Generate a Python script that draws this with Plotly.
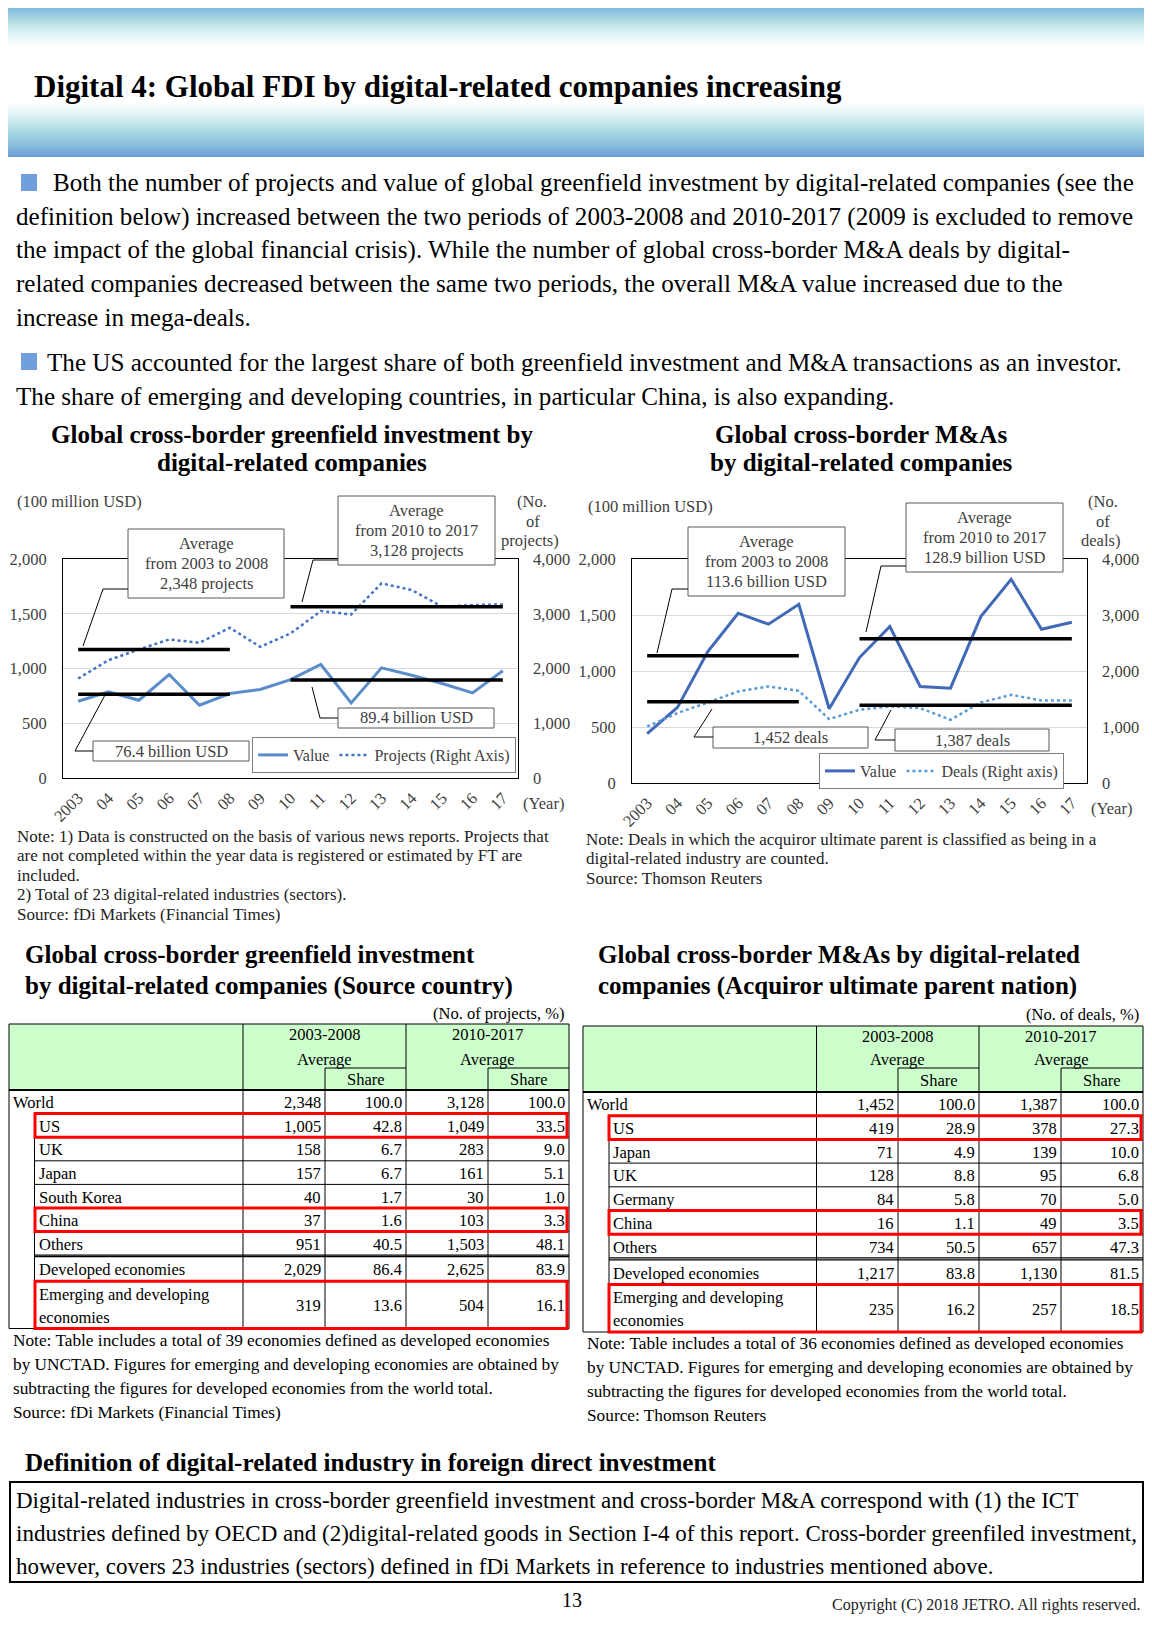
import plotly.graph_objects as go

W, H = 1152, 1625
OFF = 8                            # default page margin of the HTML body
FW, FH = W - 2 * OFF, H - 2 * OFF  # page (figure + margins) fits the window exactly
SERIF = "Liberation Serif, Times New Roman, serif"

# ---------------- data ----------------
years = ["2003", "04", "05", "06", "07", "08", "09", "10", "11", "12", "13", "14", "15", "16", "17"]

# Greenfield investment (value: 100 million USD; projects: number)
gf_value = [701, 787, 710, 945, 665, 771, 808, 899, 1037, 686, 1006, 939, 863, 777, 979]
gf_projects = [1817, 2152, 2348, 2530, 2470, 2744, 2396, 2640, 3049, 2988, 3555, 3433, 3128, 3159, 3171]
gf_avg_value = [764, 894]          # 76.4 / 89.4 billion USD
gf_avg_projects = [2348, 3128]

# Cross-border M&A (value: 100 million USD; deals: number)
ma_value = [440, 675, 1174, 1516, 1418, 1596, 663, 1120, 1397, 862, 847, 1486, 1819, 1373, 1435]
ma_deals = [1010, 1248, 1438, 1635, 1724, 1646, 1141, 1308, 1367, 1337, 1129, 1438, 1575, 1474, 1474]
ma_avg_value = [1136, 1289]        # 113.6 / 128.9 billion USD
ma_avg_deals = [1452, 1387]

periods = [(0, 5), (7, 14)]        # 2003-2008, 2010-2017
period_labels = ["from 2003 to 2008", "from 2010 to 2017"]

# Tables
gf_rows = ["World", "US", "UK", "Japan", "South Korea", "China", "Others",
           "Developed economies", "Emerging and developing\neconomies"]
gf_avg_0308 = [2348, 1005, 158, 157, 40, 37, 951, 2029, 319]
gf_share_0308 = [100.0, 42.8, 6.7, 6.7, 1.7, 1.6, 40.5, 86.4, 13.6]
gf_avg_1017 = [3128, 1049, 283, 161, 30, 103, 1503, 2625, 504]
gf_share_1017 = [100.0, 33.5, 9.0, 5.1, 1.0, 3.3, 48.1, 83.9, 16.1]

ma_rows = ["World", "US", "Japan", "UK", "Germany", "China", "Others",
           "Developed economies", "Emerging and developing\neconomies"]
ma_avg_0308 = [1452, 419, 71, 128, 84, 16, 734, 1217, 235]
ma_share_0308 = [100.0, 28.9, 4.9, 8.8, 5.8, 1.1, 50.5, 83.8, 16.2]
ma_avg_1017 = [1387, 378, 139, 95, 70, 49, 657, 1130, 257]
ma_share_1017 = [100.0, 27.3, 10.0, 6.8, 5.0, 3.5, 47.3, 81.5, 18.5]

highlight_rows = ["US", "China", "Emerging and developing\neconomies"]
table_periods = ["2003-2008", "2010-2017"]


# ---------------- helpers ----------------
def px(x):
    return (x - OFF) / FW


def py(y):
    return 1 - (y - OFF) / FH


shapes = []
annotations = []


def text(x, y, s, size=15, color="#000", bold=False, xanchor="left", yanchor="middle"):
    if bold:
        s = f"<b>{s}</b>"
    annotations.append(dict(x=px(x), y=py(y), xref="paper", yref="paper", text=s,
                            showarrow=False, xanchor=xanchor, yanchor=yanchor,
                            font=dict(family=SERIF, size=size, color=color)))


def rect(x0, y0, x1, y1, fill=None, line_color=None, width=1, layer="above"):
    shapes.append(dict(type="rect", xref="paper", yref="paper",
                       x0=px(x0), x1=px(x1), y0=py(y1), y1=py(y0),
                       fillcolor=fill or "rgba(0,0,0,0)",
                       line=dict(color=line_color or "rgba(0,0,0,0)",
                                 width=width if line_color else 0),
                       layer=layer))


def line(x0, y0, x1, y1, color="#000", width=1):
    shapes.append(dict(type="line", xref="paper", yref="paper",
                       x0=px(x0), y0=py(y0), x1=px(x1), y1=py(y1),
                       line=dict(color=color, width=width), layer="above"))


def path(points, color="#000", width=1):
    d = "M " + " L ".join(f"{px(x)},{py(y)}" for x, y in points)
    shapes.append(dict(type="path", xref="paper", yref="paper", path=d,
                       line=dict(color=color, width=width), layer="above"))


def hex2rgb(h):
    h = h.lstrip("#")
    return tuple(int(h[i:i + 2], 16) for i in (0, 2, 4))


# ---------------- header gradient ----------------
stops = [(0, "#6a9ad8"), (8, "#80b8dc"), (18, "#a6d6df"), (30, "#d4eef2"), (46, "#ffffff"),
         (104, "#ffffff"), (118, "#d6eef2"), (132, "#a8d7e0"), (146, "#86bedd"), (157, "#6a9ad8")]


def grad_color(y):
    for (y0, c0), (y1, c1) in zip(stops[:-1], stops[1:]):
        if y0 <= y <= y1:
            t = (y - y0) / (y1 - y0) if y1 > y0 else 0
            a, b = hex2rgb(c0), hex2rgb(c1)
            return "rgb(%d,%d,%d)" % tuple(round(a[i] + (b[i] - a[i]) * t) for i in range(3))
    return stops[-1][1]


yy = 0.0
while yy < 157:
    rect(0, yy, W, min(yy + 2.6, 157), fill=grad_color(yy + 1), layer="below")
    yy += 2

text(32, 87, "Digital 4: Global FDI by digital-related companies increasing", size=31, bold=True)

# ---------------- body text ----------------
BODY = 25.1
rect(21, 174, 37, 191, fill="#6f9fdc")
body1 = ["Both the number of projects and value of global greenfield investment by digital-related companies (see the",
         "definition below) increased between the two periods of 2003-2008 and 2010-2017 (2009 is excluded to remove",
         "the impact of the global financial crisis). While the number of global cross-border M&A deals by digital-",
         "related companies decreased between the same two periods, the overall M&A value increased due to the",
         "increase in mega-deals."]
for i, s in enumerate(body1):
    text(51 if i == 0 else 14, 183 + i * 33.5, s, size=BODY)
rect(21, 353, 37, 370, fill="#6f9fdc")
body2 = ["The US accounted for the largest share of both greenfield investment and M&A transactions as an investor.",
         "The share of emerging and developing countries, in particular China, is also expanding."]
for i, s in enumerate(body2):
    text(45 if i == 0 else 14, 363 + i * 34, s, size=BODY)

# ---------------- chart titles ----------------
TT = 25
text(292, 434, "Global cross-border greenfield investment by", size=TT, bold=True, xanchor="center")
text(292, 463, "digital-related companies", size=TT, bold=True, xanchor="center")
text(861, 434, "Global cross-border M&As", size=TT, bold=True, xanchor="center")
text(861, 463, "by digital-related companies", size=TT, bold=True, xanchor="center")

# ---------------- charts ----------------
C_GF_VAL = "#5b8dca"
C_GF_PROJ = "#4472c4"
C_MA_VAL = "#4169b7"
C_MA_DEAL = "#5b9bd5"
TXT = "#404040"
CF = 16.5   # chart font size

fig = go.Figure()
fig.add_trace(go.Scatter(x=years, y=gf_value, xaxis="x", yaxis="y", mode="lines",
                         line=dict(color=C_GF_VAL, width=3), name="Value", legend="legend"))
fig.add_trace(go.Scatter(x=years, y=gf_projects, xaxis="x", yaxis="y2", mode="lines",
                         line=dict(color=C_GF_PROJ, width=2.5, dash="dot"),
                         name="Projects (Right Axis)", legend="legend"))
for (i0, i1), v in zip(periods, gf_avg_value):
    fig.add_trace(go.Scatter(x=years[i0:i1 + 1], y=[v] * (i1 - i0 + 1), xaxis="x", yaxis="y",
                             mode="lines", line=dict(color="black", width=3.5), showlegend=False))
for (i0, i1), v in zip(periods, gf_avg_projects):
    fig.add_trace(go.Scatter(x=years[i0:i1 + 1], y=[v] * (i1 - i0 + 1), xaxis="x", yaxis="y2",
                             mode="lines", line=dict(color="black", width=3.5), showlegend=False))

fig.add_trace(go.Scatter(x=years, y=ma_value, xaxis="x2", yaxis="y3", mode="lines",
                         line=dict(color=C_MA_VAL, width=3), name="Value", legend="legend2"))
fig.add_trace(go.Scatter(x=years, y=ma_deals, xaxis="x2", yaxis="y4", mode="lines",
                         line=dict(color=C_MA_DEAL, width=2.5, dash="dot"),
                         name="Deals (Right axis)", legend="legend2"))
for (i0, i1), v in zip(periods, ma_avg_value):
    fig.add_trace(go.Scatter(x=years[i0:i1 + 1], y=[v] * (i1 - i0 + 1), xaxis="x2", yaxis="y3",
                             mode="lines", line=dict(color="black", width=3.5), showlegend=False))
for (i0, i1), v in zip(periods, ma_avg_deals):
    fig.add_trace(go.Scatter(x=years[i0:i1 + 1], y=[v] * (i1 - i0 + 1), xaxis="x2", yaxis="y4",
                             mode="lines", line=dict(color="black", width=3.5), showlegend=False))

tickfont = dict(family=SERIF, size=CF, color=TXT)
xcommon = dict(type="category", categoryorder="array", categoryarray=years, range=[-0.5, 14.5],
               tickangle=-45, showgrid=False, showline=True, mirror=True, linecolor="black",
               linewidth=1, ticks="", tickfont=tickfont, zeroline=False, fixedrange=True,
               ticklabelstandoff=3, automargin=False)
yleft = dict(range=[0, 2000], dtick=500, tickformat=",", showgrid=True, gridcolor="#d9d9d9",
             showline=True, mirror=True, linecolor="black", linewidth=1, ticks="",
             tickfont=tickfont, zeroline=False, fixedrange=True, ticklabelstandoff=12,
             automargin=False)
yright = dict(range=[0, 4000], dtick=1000, tickformat=",", showgrid=False, showline=False,
              side="right", ticks="", tickfont=tickfont, zeroline=False, fixedrange=True,
              ticklabelstandoff=14, automargin=False)

fig.update_layout(
    xaxis=dict(domain=[px(63), px(518)], anchor="y", **xcommon),
    yaxis=dict(domain=[py(778), py(559)], anchor="x", **yleft),
    yaxis2=dict(overlaying="y", anchor="x", **yright),
    xaxis2=dict(domain=[px(632), px(1087)], anchor="y3", **xcommon),
    yaxis3=dict(domain=[py(783), py(559)], anchor="x2", **yleft),
    yaxis4=dict(overlaying="y3", anchor="x2", **yright),
)

legend_common = dict(xanchor="left", yanchor="top", orientation="h", bordercolor="#7f7f7f",
                     borderwidth=1, bgcolor="white", itemwidth=30,
                     font=dict(family=SERIF, size=16, color=TXT))
fig.update_layout(legend=dict(x=px(252), y=py(737), **legend_common),
                  legend2=dict(x=px(819), y=py(753), **legend_common))

# axis unit labels
text(15, 501, "(100 million USD)", size=CF, color=TXT)
text(532, 501, "(No.", size=CF, color=TXT, xanchor="center")
text(533, 521, "of", size=CF, color=TXT, xanchor="center")
text(530, 541, "projects)", size=CF, color=TXT, xanchor="center")
text(521, 803, "(Year)", size=CF, color=TXT)

text(586, 507, "(100 million USD)", size=CF, color=TXT)
text(1103, 502, "(No.", size=CF, color=TXT, xanchor="center")
text(1103, 521, "of", size=CF, color=TXT, xanchor="center")
text(1100, 540, "deals)", size=CF, color=TXT, xanchor="center")
text(1089, 808, "(Year)", size=CF, color=TXT)


def callout(x0, y0, x1, y1, lines, leader, line_h=20):
    rect(x0, y0, x1, y1, fill="white", line_color="#595959", width=1)
    cy = (y0 + y1) / 2
    n = len(lines)
    for k, s in enumerate(lines):
        text((x0 + x1) / 2, cy + (k - (n - 1) / 2) * line_h, s, size=CF, color=TXT, xanchor="center")
    path(leader, color="#000", width=1)


def bn(v):
    return f"{v / 10:.1f} billion USD"


callout(128, 529, 284, 598, ["Average", period_labels[0], f"{gf_avg_projects[0]:,} projects"],
        [(128, 589), (103, 589), (83, 646)])
callout(338, 496, 495, 565, ["Average", period_labels[1], f"{gf_avg_projects[1]:,} projects"],
        [(338, 560), (313, 560), (302, 602)])
callout(93, 741, 249, 761, [bn(gf_avg_value[0])], [(93, 751), (75, 751), (105, 695)])
callout(338, 708, 494, 728, [bn(gf_avg_value[1])], [(338, 718), (320, 718), (312, 687)])

callout(688, 527, 845, 596, ["Average", period_labels[0], bn(ma_avg_value[0])],
        [(688, 589), (672, 589), (657, 653)])
callout(906, 503, 1063, 572, ["Average", period_labels[1], bn(ma_avg_value[1])],
        [(906, 566), (881, 566), (866, 632)])
callout(713, 727, 868, 748, [f"{ma_avg_deals[0]:,} deals"], [(713, 737), (694, 737), (712, 709)])
callout(895, 729, 1049, 751, [f"{ma_avg_deals[1]:,} deals"], [(895, 740), (875, 740), (891, 710)])

# chart notes
NOTE = 17
gf_notes = ["Note: 1) Data is constructed on the basis of various news reports. Projects that",
            "are not completed within the year data is registered or estimated by FT are",
            "included.",
            "2) Total of 23 digital-related industries (sectors).",
            "Source: fDi Markets (Financial Times)"]
for i, s in enumerate(gf_notes):
    text(15, 836 + i * 19.5, s, size=NOTE, color="#222")
ma_notes = ["Note: Deals in which the acquiror ultimate parent is classified as being in a",
            "digital-related industry are counted.",
            "Source: Thomson Reuters"]
for i, s in enumerate(ma_notes):
    text(584, 839 + i * 19.5, s, size=NOTE, color="#222")

# ---------------- table titles ----------------
text(23, 954, "Global cross-border greenfield investment", size=TT, bold=True)
text(23, 986, "by digital-related companies (Source country)", size=TT, bold=True)
text(596, 954, "Global cross-border M&As by digital-related", size=TT, bold=True)
text(596, 986, "companies (Acquiror ultimate parent nation)", size=TT, bold=True)


# ---------------- tables ----------------
def draw_table(x_outer, x_inner, cols, y_top, y_share, y_hdr, row_h, gap, rows,
               avg_a, share_a, avg_b, share_b, red_x0, red_x1, unit_text):
    c1, c2, c3, c4, xr = cols
    TF = 16.5
    text(xr - 2, y_top - 11, unit_text, size=TF, xanchor="right")
    bounds = [y_hdr]
    for _ in range(7):
        bounds.append(bounds[-1] + row_h)
    y_dev_top = bounds[-1] + gap
    y_dev_bot = y_dev_top + row_h + 1
    y_bot = y_dev_bot + 2 * row_h
    row_spans = [(bounds[i], bounds[i + 1]) for i in range(7)] + [(y_dev_top, y_dev_bot), (y_dev_bot, y_bot)]

    rect(x_outer, y_top, xr, y_hdr, fill="#ccffcc")
    line(x_outer, y_top, xr, y_top)
    line(x_outer, y_top, x_outer, y_bot)
    line(xr, y_top, xr, y_bot)
    line(x_outer, y_bot, xr, y_bot)
    line(x_outer, y_hdr, xr, y_hdr, width=2.2)
    line(c1, y_top, c1, y_bot)
    line(c3, y_top, c3, y_bot)
    line(c2, y_share, c2, y_bot)
    line(c4, y_share, c4, y_bot)
    line(c2, y_share, c3, y_share)
    line(c4, y_share, xr, y_share)
    line(x_inner, bounds[1], x_inner, y_bot)
    for b in bounds[1:7]:
        line(x_inner, b, xr, b)
    line(x_inner, bounds[7], xr, bounds[7], width=1.3)
    line(x_inner, y_dev_top, xr, y_dev_top, width=1.3)
    line(x_inner, y_dev_bot, xr, y_dev_bot)

    for k, (xa, xb) in enumerate([(c1, c3), (c3, xr)]):
        text((xa + xb) / 2, y_top + 10, table_periods[k], size=TF, xanchor="center")
        text((xa + xb) / 2, y_share - 9, "Average", size=TF, xanchor="center")
    text((c2 + c3) / 2, (y_share + y_hdr) / 2, "Share", size=TF, xanchor="center")
    text((c4 + xr) / 2, (y_share + y_hdr) / 2, "Share", size=TF, xanchor="center")

    for i, name in enumerate(rows):
        ya, yb = row_spans[i]
        cy = (ya + yb) / 2 + 1
        lx = (x_outer if i == 0 else x_inner) + 2
        parts = name.split("\n")
        for k, p in enumerate(parts):
            text(lx, cy + (k - (len(parts) - 1) / 2) * 23, p, size=TF)
        vals = [f"{avg_a[i]:,}", f"{share_a[i]:.1f}", f"{avg_b[i]:,}", f"{share_b[i]:.1f}"]
        for xe, v in zip([c2, c3, c4, xr], vals):
            text(xe - 2, cy, v, size=TF, xanchor="right")
        if name in highlight_rows:
            rect(red_x0, ya, red_x1, yb, line_color="#ff0000", width=3)


draw_table(9, 34.5, [243, 325, 406, 488, 569], 1024, 1068, 1090, 23.6, 1.5, gf_rows,
           gf_avg_0308, gf_share_0308, gf_avg_1017, gf_share_1017, 35, 567, "(No. of projects, %)")
draw_table(583, 609, [816.5, 898, 979, 1061, 1143], 1026, 1068, 1092, 23.7, 2, ma_rows,
           ma_avg_0308, ma_share_0308, ma_avg_1017, ma_share_1017, 609, 1141, "(No. of deals, %)")

# table notes
TN = 17.3
tn_gf = ["Note: Table includes a total of 39 economies defined as developed economies",
         "by UNCTAD. Figures for emerging and developing economies are obtained by",
         "subtracting the figures for developed economies from the world total.",
         "Source: fDi Markets (Financial Times)"]
for i, s in enumerate(tn_gf):
    text(11, 1340 + i * 24, s, size=TN)
tn_ma = ["Note: Table includes a total of 36 economies defined as developed economies",
         "by UNCTAD. Figures for emerging and developing economies are obtained by",
         "subtracting the figures for developed economies from the world total.",
         "Source: Thomson Reuters"]
for i, s in enumerate(tn_ma):
    text(585, 1343 + i * 24.3, s, size=TN)

# ---------------- definition box ----------------
text(23, 1462, "Definition of digital-related industry in foreign direct investment", size=25.1, bold=True)
rect(10, 1482, 1143, 1582, line_color="#000", width=2)
defs = ["Digital-related industries in cross-border greenfield investment and cross-border M&A correspond with (1) the ICT",
        "industries defined by OECD and (2)digital-related goods in Section I-4 of this report. Cross-border greenfiled investment,",
        "however, covers 23 industries (sectors) defined in fDi Markets in reference to industries mentioned above."]
for i, s in enumerate(defs):
    text(14, 1500 + i * 33, s, size=23)

text(572, 1600, "13", size=20, xanchor="center")
text(1142, 1605, "Copyright (C) 2018 JETRO. All rights reserved.", size=16, xanchor="right", color="#222")

fig.update_layout(
    width=FW, height=FH, margin=dict(l=0, r=0, t=0, b=0, pad=0, autoexpand=False),
    paper_bgcolor="white", plot_bgcolor="white",
    shapes=shapes, annotations=annotations,
    font=dict(family=SERIF, color="#000"),
    hovermode=False,
)

fig.write_html("out.html", config={"displayModeBar": False})
